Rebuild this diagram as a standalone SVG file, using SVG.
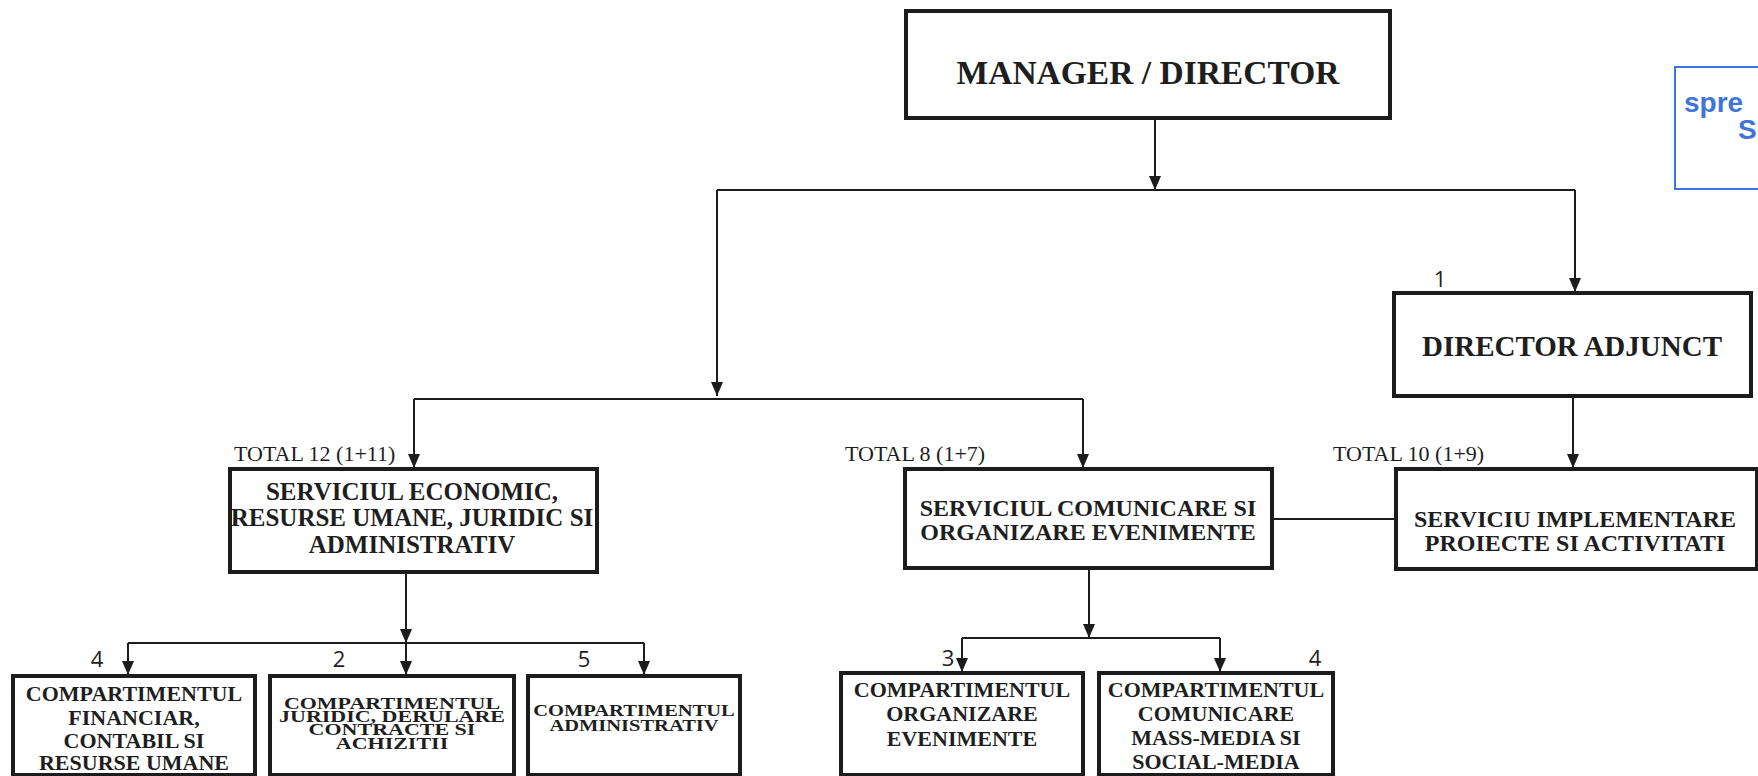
<svg xmlns="http://www.w3.org/2000/svg" width="1758" height="776" viewBox="0 0 1758 776">
<style>
.box{fill:#fff;stroke:#1c1c1c;stroke-width:4}
.t{font-family:"Liberation Serif","Times New Roman",serif;font-weight:bold;fill:#1e1e1e;text-anchor:middle}
.tot{font-family:"Liberation Serif","Times New Roman",serif;font-size:22px;fill:#1e1e1e}
.num{font-family:"Open Sans","Noto Sans",sans-serif;font-size:22px;fill:#1e1e1e;text-anchor:middle}
.ln{fill:none;stroke:#1c1c1c;stroke-width:2}
.arr{marker-end:url(#ah)}
.stamp{font-family:"Liberation Sans",Arial,sans-serif;font-weight:bold;font-size:28px;fill:#3f74dc}
</style>
<defs>
<marker id="ah" viewBox="0 0 10 10" refX="10" refY="5" markerWidth="14" markerHeight="12" orient="auto" markerUnits="userSpaceOnUse" preserveAspectRatio="none">
<path d="M0,0 L10,5 L0,10 z" fill="#1c1c1c"/>
</marker>
</defs>
<rect width="1758" height="776" fill="#fff"/>

<g id="connectors">
<path class="ln arr" d="M1155,118 V190"/>
<path class="ln" d="M717,190 H1575"/>
<path class="ln arr" d="M717,190 V396"/>
<path class="ln arr" d="M1575,190 V292"/>
<path class="ln arr" d="M1573,396 V468"/>
<path class="ln" d="M414,399 H1083"/>
<path class="ln arr" d="M414,399 V468"/>
<path class="ln arr" d="M1083,399 V468"/>
<path class="ln" d="M1273,519 H1396"/>
<path class="ln arr" d="M406,572 V643"/>
<path class="ln" d="M128,643 H644"/>
<path class="ln arr" d="M128,643 V675"/>
<path class="ln arr" d="M406,643 V675"/>
<path class="ln arr" d="M644,643 V675"/>
<path class="ln arr" d="M1089,568 V638"/>
<path class="ln" d="M962,638 H1220"/>
<path class="ln arr" d="M962,638 V672"/>
<path class="ln arr" d="M1220,638 V672"/>
</g>

<g id="manager">
<rect class="box" x="906" y="11" width="484" height="107"/>
<text class="t" x="1148" y="84" font-size="33.5">MANAGER / DIRECTOR</text>
</g>

<g id="director-adjunct">
<text class="num" x="1440" y="287">1</text>
<rect class="box" x="1394" y="293" width="357" height="103"/>
<text class="t" x="1572" y="356" font-size="29">DIRECTOR ADJUNCT</text>
</g>

<g id="serviciul-economic">
<text class="tot" x="234" y="461">TOTAL 12 (1+11)</text>
<rect class="box" x="230" y="469" width="367" height="103"/>
<text class="t" font-size="25"><tspan x="412" y="500">SERVICIUL ECONOMIC,</tspan><tspan x="412" y="526">RESURSE UMANE, JURIDIC SI</tspan><tspan x="412" y="553">ADMINISTRATIV</tspan></text>
</g>

<g id="serviciul-comunicare">
<text class="tot" x="845" y="461">TOTAL 8 (1+7)</text>
<rect class="box" x="905" y="469" width="367" height="99"/>
<text class="t" font-size="24"><tspan x="1088" y="516">SERVICIUL COMUNICARE SI</tspan><tspan x="1088" y="540">ORGANIZARE EVENIMENTE</tspan></text>
</g>

<g id="serviciu-implementare">
<text class="tot" x="1333" y="461">TOTAL 10 (1+9)</text>
<rect class="box" x="1396" y="469" width="361" height="100"/>
<text class="t" font-size="24"><tspan x="1575" y="527">SERVICIU IMPLEMENTARE</tspan><tspan x="1575" y="551">PROIECTE SI ACTIVITATI</tspan></text>
</g>

<g id="comp-financiar">
<text class="num" x="97" y="667">4</text>
<rect class="box" x="13" y="676" width="242" height="99"/>
<text class="t" font-size="22"><tspan x="134" y="701">COMPARTIMENTUL</tspan><tspan x="134" y="725">FINANCIAR,</tspan><tspan x="134" y="748">CONTABIL SI</tspan><tspan x="134" y="770">RESURSE UMANE</tspan></text>
</g>

<g id="comp-juridic">
<text class="num" x="339" y="667">2</text>
<rect class="box" x="270" y="676" width="244" height="99"/>
<text class="t" font-size="22" transform="translate(392,709) scale(1,0.8)"><tspan x="0" y="0">COMPARTIMENTUL</tspan><tspan x="0" y="16.5">JURIDIC, DERULARE</tspan><tspan x="0" y="33">CONTRACTE SI</tspan><tspan x="0" y="49.5">ACHIZITII</tspan></text>
</g>

<g id="comp-administrativ">
<text class="num" x="584" y="667">5</text>
<rect class="box" x="528" y="676" width="212" height="99"/>
<text class="t" font-size="20.5" transform="translate(634,716) scale(1,0.85)"><tspan x="0" y="0">COMPARTIMENTUL</tspan><tspan x="0" y="17.5">ADMINISTRATIV</tspan></text>
</g>

<g id="comp-organizare">
<text class="num" x="948" y="666">3</text>
<rect class="box" x="841" y="673" width="242" height="102"/>
<text class="t" font-size="22"><tspan x="962" y="697">COMPARTIMENTUL</tspan><tspan x="962" y="721">ORGANIZARE</tspan><tspan x="962" y="746">EVENIMENTE</tspan></text>
</g>

<g id="comp-comunicare">
<text class="num" x="1315" y="666">4</text>
<rect class="box" x="1099" y="673" width="234" height="102"/>
<text class="t" font-size="22"><tspan x="1216" y="697">COMPARTIMENTUL</tspan><tspan x="1216" y="721">COMUNICARE</tspan><tspan x="1216" y="745">MASS-MEDIA SI</tspan><tspan x="1216" y="769">SOCIAL-MEDIA</tspan></text>
</g>

<g id="stamp">
<rect x="1675" y="67" width="100" height="122" fill="none" stroke="#3f74dc" stroke-width="2"/>
<text class="stamp" x="1684" y="112">spre</text>
<text class="stamp" x="1738" y="139">S</text>
</g>
</svg>
